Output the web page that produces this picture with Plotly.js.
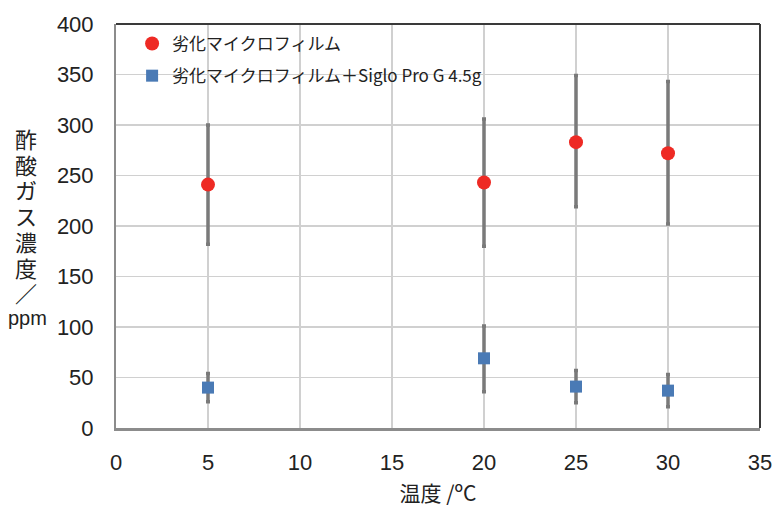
<!DOCTYPE html>
<html><head><meta charset="utf-8">
<script src="https://cdn.plot.ly/plotly-3.0.1.min.js"></script>
<style>body{margin:0;background:#fff}#c{width:776px;height:508px}</style>
</head><body><div id="c"></div>
<script>
const temps = [5, 20, 25, 30];
const redName = "劣化マイクロフィルム";
const redVals = [241, 243, 283, 272];
const redHigh = [300, 306, 349, 343];
const redLow = [182, 180, 219, 202];
const blueName = "劣化マイクロフィルム＋Siglo Pro G 4.5g";
const blueVals = [40, 69, 41, 37];
const blueHigh = [54, 101, 57, 53];
const blueLow = [26, 36, 25, 21];
const xTicks = [0, 5, 10, 15, 20, 25, 30, 35];
const yTicks = [0, 50, 100, 150, 200, 250, 300, 350, 400];
const yTitleParts = ['酢', '酸', 'ガ', 'ス', '濃', '度', '／', 'ppm'];

const up = (h, v) => h.map((x, i) => x - v[i]);
const dn = (l, v) => v.map((x, i) => x - l[i]);
const errStyle = {color: '#7a7a7a', thickness: 3.5, width: 2};
const font = "'Liberation Sans', Arial, 'Noto Sans CJK JP', sans-serif";
const jfont = "'Noto Sans CJK JP', 'Liberation Sans', sans-serif";

const traces = [
  {x: temps, y: redVals, name: redName, legendgroup: 'a', mode: 'markers', type: 'scatter',
   marker: {color: '#ee2a24', size: 14, symbol: 'circle'},
   error_y: Object.assign({type: 'data', symmetric: false, array: up(redHigh, redVals), arrayminus: dn(redLow, redVals)}, errStyle)},
  {x: temps, y: blueVals, name: blueName, legendgroup: 'b', mode: 'markers', type: 'scatter',
   marker: {color: '#4a7ab5', size: 12, symbol: 'square'},
   error_y: Object.assign({type: 'data', symmetric: false, array: up(blueHigh, blueVals), arrayminus: dn(blueLow, blueVals)}, errStyle)}
];

// stacked vertical y-axis title, one glyph per row
const L = 116, W = 644, B = 428, H = 404;
const titleAnn = yTitleParts.map((t, i) => ({
  xref: 'paper', yref: 'paper',
  x: ((t === 'ppm' ? 27 : 25.5) - L) / W,
  y: (B - (138 + i * 25.7)) / H,
  xanchor: 'center', yanchor: 'middle', showarrow: false, text: t,
  font: {family: t === 'ppm' ? font : jfont, size: t === 'ppm' ? 20 : 22, color: '#222'}
}));

const layout = {
  width: 776, height: 508,
  margin: {l: 116, r: 16, t: 24, b: 80},
  paper_bgcolor: '#fff', plot_bgcolor: '#fff',
  showlegend: true,
  legend: {x: 0.025, y: 0.995, xanchor: 'left', yanchor: 'top', bgcolor: 'rgba(0,0,0,0)',
           font: {family: jfont, size: 17, color: '#222'}, tracegroupgap: 7, itemwidth: 20},
  xaxis: {range: [0, 35], tickvals: xTicks, ticktext: xTicks.map(String),
          showgrid: true, gridcolor: '#d0d0d0', gridwidth: 1.2, zeroline: false,
          showline: true, linecolor: '#8c8c8c', linewidth: 2.5,
          ticks: 'outside', ticklen: 13, tickcolor: 'rgba(0,0,0,0)',
          tickfont: {family: font, size: 22, color: '#222'},
          title: {text: '温度 /ºC', font: {family: jfont, size: 21, color: '#222'}, standoff: 13}},
  yaxis: {range: [0, 400], tickvals: yTicks, ticktext: yTicks.map(String),
          showgrid: true, gridcolor: '#d0d0d0', gridwidth: 1.2, zeroline: false,
          showline: true, linecolor: '#8c8c8c', linewidth: 2,
          ticks: 'outside', ticklen: 16, tickcolor: 'rgba(0,0,0,0)',
          tickfont: {family: font, size: 22, color: '#222'}},
  shapes: [
    {type: 'line', xref: 'paper', yref: 'paper', x0: 0, x1: 1, y0: 1, y1: 1, line: {color: '#3a3a3a', width: 2}},
    {type: 'line', xref: 'paper', yref: 'paper', x0: 1, x1: 1, y0: 0, y1: 1, line: {color: '#3a3a3a', width: 2}}
  ],
  annotations: titleAnn
};
Plotly.newPlot('c', traces, layout, {displayModeBar: false, staticPlot: true});
</script></body></html>
